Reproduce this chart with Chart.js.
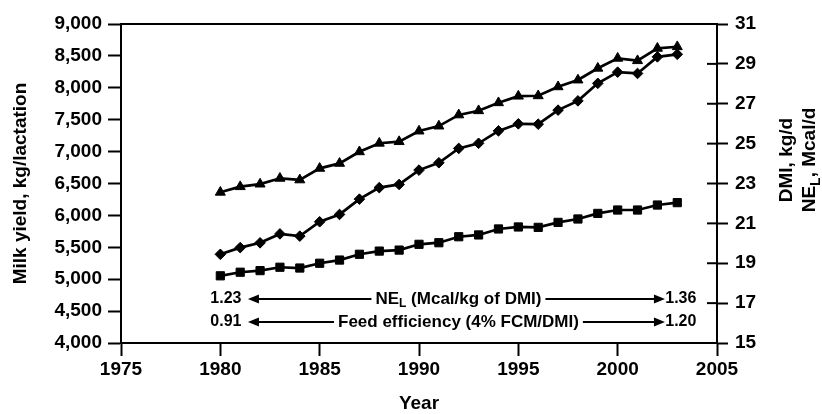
<!DOCTYPE html>
<html>
<head>
<meta charset="utf-8">
<script src="https://cdn.jsdelivr.net/npm/chart.js@4.4.1/dist/chart.umd.min.js"></script>
<style>
  body { margin: 0; background: #fff; }
  #wrap { width: 822px; height: 414px; }
</style>
</head>
<body>
<div id="wrap"><canvas id="plot-milk"></canvas></div>
<script>
const years = [1980, 1981, 1982, 1983, 1984, 1985, 1986, 1987, 1988, 1989, 1990, 1991,
  1992, 1993, 1994, 1995, 1996, 1997, 1998, 1999, 2000, 2001, 2002, 2003];
// kg/lactation, left axis (diamonds)
const milkYield = [5390, 5495, 5570, 5710, 5675, 5900, 6015, 6255, 6435, 6485, 6710, 6825,
  7050, 7130, 7325, 7435, 7430, 7650, 7795, 8070, 8245, 8225, 8485, 8525];
// NE_L intake, Mcal/d, right axis (triangles)
const nelIntake = [22.56, 22.84, 22.97, 23.26, 23.18, 23.76, 24.01, 24.59, 25.02, 25.10, 25.63, 25.88,
  26.44, 26.65, 27.05, 27.38, 27.40, 27.85, 28.19, 28.78, 29.28, 29.16, 29.78, 29.86];
// DMI, kg/d, right axis (squares)
const dmiIntake = [18.37, 18.55, 18.63, 18.80, 18.76, 19.00, 19.16, 19.45, 19.61, 19.66, 19.95, 20.03,
  20.33, 20.42, 20.72, 20.82, 20.80, 21.05, 21.22, 21.50, 21.67, 21.67, 21.92, 22.04];

const ratioLabels = ["NE_L (Mcal/kg of DMI)", "Feed efficiency (4% FCM/DMI)"];
const ratioStart = ["1.23", "0.91"];
const ratioEnd = ["1.36", "1.20"];

const FONT = "'Liberation Sans', Arial, sans-serif";
const toPoints = (vals) => vals.map((v, i) => ({ x: years[i], y: v }));

// text with "_X" meaning subscript X
function drawRich(ctx, text, x, y, size) {
  const segs = [];
  text.split(/(_\w)/).forEach((s) => {
    if (!s) return;
    if (s[0] === "_") segs.push({ t: s[1], sub: true });
    else segs.push({ t: s, sub: false });
  });
  const big = "bold " + size + "px " + FONT;
  const small = "bold " + Math.round(size * 0.72) + "px " + FONT;
  let total = 0;
  segs.forEach((s) => {
    ctx.font = s.sub ? small : big;
    s.w = ctx.measureText(s.t).width;
    total += s.w;
  });
  let cx = x - total / 2;
  ctx.textAlign = "left";
  ctx.textBaseline = "middle";
  segs.forEach((s) => {
    ctx.font = s.sub ? small : big;
    ctx.fillText(s.t, cx, s.sub ? y + size * 0.3 : y);
    cx += s.w;
  });
  return total;
}

function arrowHead(ctx, tipX, y, dir) {
  ctx.beginPath();
  ctx.moveTo(tipX, y);
  ctx.lineTo(tipX - dir * 11, y - 4.5);
  ctx.lineTo(tipX - dir * 11, y + 4.5);
  ctx.closePath();
  ctx.fill();
}

const extras = {
  id: "extras",
  afterDraw(chart) {
    const ctx = chart.ctx;
    const area = chart.chartArea;
    const xs = chart.scales.x;
    const yl = chart.scales.y;
    const yr = chart.scales.y1;
    ctx.save();
    ctx.strokeStyle = "#000";
    ctx.fillStyle = "#000";
    ctx.lineWidth = 2;

    // top frame line
    ctx.beginPath();
    ctx.moveTo(area.left, area.top);
    ctx.lineTo(area.right + 1, area.top);
    ctx.stroke();

    // inner half of the right axis ticks
    yr.ticks.forEach((t) => {
      const py = yr.getPixelForValue(t.value);
      ctx.beginPath();
      ctx.moveTo(area.right - 10, py);
      ctx.lineTo(area.right, py);
      ctx.stroke();
    });

    // ratio rows
    const rowVals = [4690, 4330];
    ratioLabels.forEach((lbl, i) => {
      const py = yl.getPixelForValue(rowVals[i]);
      const xl = xs.getPixelForValue(1980.28);
      const xr = xs.getPixelForValue(2003.18);
      const tipL = xs.getPixelForValue(1981.39);
      const tipR = xs.getPixelForValue(2002.38);
      const mid = (tipL + tipR) / 2 + 2;
      ctx.font = "bold 16px " + FONT;
      ctx.textAlign = "center";
      ctx.textBaseline = "middle";
      ctx.fillText(ratioStart[i], xl, py);
      ctx.fillText(ratioEnd[i], xr, py);
      const w = drawRich(ctx, lbl, mid, py, 17);
      ctx.beginPath();
      ctx.moveTo(tipL + 6, py);
      ctx.lineTo(mid - w / 2 - 4, py);
      ctx.moveTo(mid + w / 2 + 4, py);
      ctx.lineTo(tipR - 6, py);
      ctx.stroke();
      arrowHead(ctx, tipL, py, -1);
      arrowHead(ctx, tipR, py, 1);
    });

    // right axis title
    ctx.translate(area.right + 70, 160);
    ctx.rotate(-Math.PI / 2);
    drawRich(ctx, "DMI, kg/d", 0, 0, 19);
    drawRich(ctx, "NE_L, Mcal/d", 0, 23, 19);
    ctx.restore();
  },
};

function makeChart() {
  const canvas = document.getElementById("plot-milk");
  const lineStyle = {
    borderColor: "#000",
    backgroundColor: "#000",
    pointBorderColor: "#000",
    pointBackgroundColor: "#000",
    borderWidth: 2.7,
    pointBorderWidth: 1,
    tension: 0,
  };
  const tickFont = { family: FONT, size: 19, weight: "bold" };
  const myChart = new Chart(canvas, {
    type: "line",
    data: {
      datasets: [
        {
          label: "NE_L, Mcal/d",
          data: toPoints(nelIntake),
          yAxisID: "y1",
          pointStyle: "triangle",
          pointRadius: 5.8,
          ...lineStyle,
        },
        {
          label: "Milk yield, kg/lactation",
          data: toPoints(milkYield),
          yAxisID: "y",
          pointStyle: "rectRot",
          pointRadius: 5.3,
          ...lineStyle,
        },
        {
          label: "DMI, kg/d",
          data: toPoints(dmiIntake),
          yAxisID: "y1",
          pointStyle: "rect",
          pointRadius: 5.8,
          ...lineStyle,
        },
      ],
    },
    options: {
      animation: false,
      responsive: true,
      maintainAspectRatio: false,
      layout: { padding: { top: 24, left: 0, right: 0, bottom: 0 } },
      plugins: { legend: { display: false }, tooltip: { enabled: false } },
      scales: {
        x: {
          type: "linear",
          min: 1975,
          max: 2005,
          afterFit: (s) => { s.height = 71; },
          border: { color: "#000", width: 2 },
          grid: { display: true, drawOnChartArea: false, drawTicks: true, tickLength: 13, tickColor: "#000", tickWidth: 2 },
          ticks: { stepSize: 5, color: "#000", font: tickFont, padding: 2, maxRotation: 0, callback: (v) => String(v) },
          title: { display: true, text: "Year", color: "#000", font: { family: FONT, size: 19, weight: "bold", lineHeight: 1.05 }, padding: 0 },
        },
        y: {
          position: "left",
          min: 4000,
          max: 9000,
          afterFit: (s) => { s.width = 121; },
          border: { color: "#000", width: 2 },
          grid: { display: true, drawOnChartArea: false, drawTicks: true, tickLength: 13, tickColor: "#000", tickWidth: 2 },
          ticks: { stepSize: 500, color: "#000", font: tickFont, padding: 6, callback: (v) => v.toLocaleString("en-US") },
          title: { display: true, text: "Milk yield, kg/lactation", color: "#000", font: { family: FONT, size: 19, weight: "bold", lineHeight: 1.2 }, padding: { top: 9 } },
        },
        y1: {
          position: "right",
          min: 15,
          max: 31,
          afterFit: (s) => { s.width = 105; },
          border: { color: "#000", width: 2 },
          grid: { display: true, drawOnChartArea: false, drawTicks: true, tickLength: 11, tickColor: "#000", tickWidth: 2 },
          ticks: { stepSize: 2, color: "#000", font: tickFont, padding: 7 },
        },
      },
    },
    plugins: [extras],
  });
}

makeChart();
</script>
</body>
</html>
